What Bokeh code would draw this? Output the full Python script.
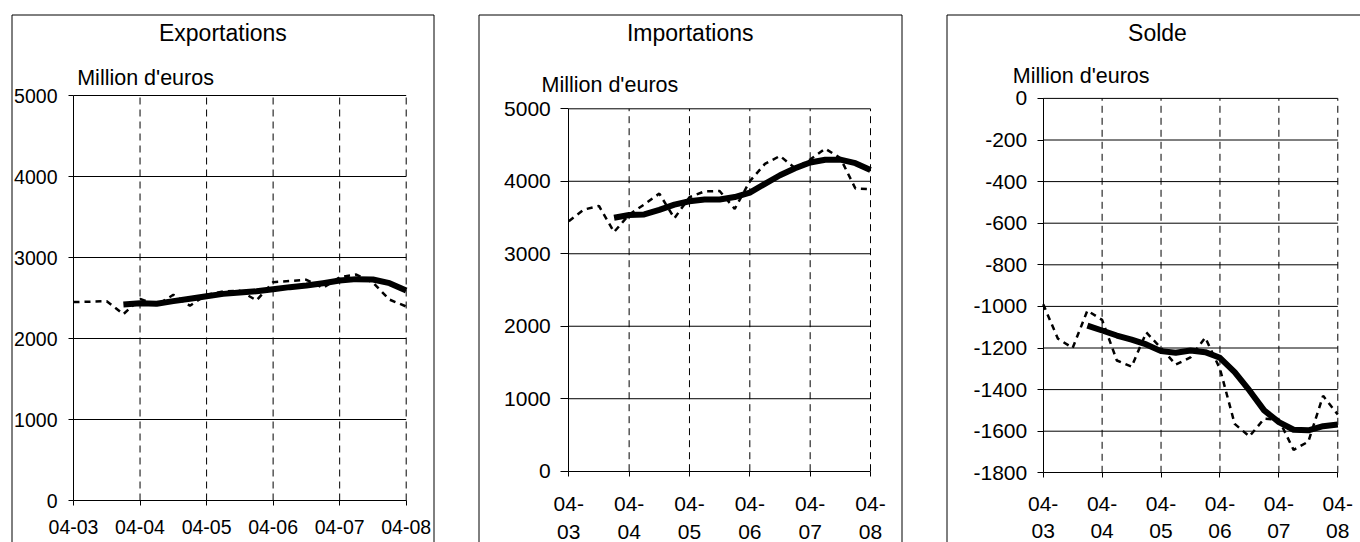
from bokeh.plotting import figure
from bokeh.models import Range1d, FixedTicker, Label, BoxAnnotation, LinearAxis
from bokeh.layouts import row
from bokeh.embed import file_html
from bokeh.resources import INLINE

# ---------------- data ----------------
quarters = [0, 1, 2, 3, 4, 5, 6, 7, 8, 9, 10, 11, 12, 13, 14, 15, 16, 17, 18, 19, 20]
trend_quarters = [3, 4, 5, 6, 7, 8, 9, 10, 11, 12, 13, 14, 15, 16, 17, 18, 19, 20]
x_tick_pos = [0, 4, 8, 12, 16, 20]
x_tick_labels = ["04-03", "04-04", "04-05", "04-06", "04-07", "04-08"]

exports_raw = [2450, 2455, 2460, 2300, 2490, 2410, 2540, 2405, 2540, 2580, 2590,
               2470, 2695, 2710, 2725, 2625, 2755, 2790, 2690, 2480, 2395]
exports_trend = [2420, 2436, 2428, 2461, 2490, 2522, 2551, 2568, 2584, 2609,
                 2634, 2654, 2683, 2716, 2733, 2728, 2683, 2593]

imports_raw = [3450, 3610, 3660, 3300, 3540, 3680, 3830, 3490, 3780, 3860, 3865,
               3620, 4000, 4240, 4350, 4180, 4300, 4450, 4320, 3900, 3890]
imports_trend = [3496, 3534, 3543, 3606, 3677, 3725, 3749, 3749, 3782, 3844,
                 3964, 4083, 4179, 4260, 4298, 4298, 4250, 4155]

balance_raw = [-990, -1155, -1200, -1020, -1065, -1260, -1290, -1125, -1200, -1280, -1245,
               -1150, -1300, -1565, -1625, -1540, -1545, -1690, -1650, -1430, -1520]
balance_trend = [-1092, -1116, -1140, -1160, -1183, -1215, -1223, -1212, -1220, -1247,
                 -1316, -1404, -1500, -1556, -1593, -1596, -1576, -1568]

exp_y_ticks = [0, 1000, 2000, 3000, 4000, 5000]
imp_y_ticks = [0, 1000, 2000, 3000, 4000, 5000]
bal_y_ticks = [-1800, -1600, -1400, -1200, -1000, -800, -600, -400, -200, 0]

titles = ["Exportations", "Importations", "Solde"]
unit_text = "Million d'euros"

FONT = "Liberation Sans"
PAGE_H = 542


def make_panel(cfg, raw, trend, y_ticks, title, x_labels):
    L, W = cfg["left"], cfg["w"]
    px0, px1 = cfg["xpx"]          # page px of first / last x tick
    py0, py1 = cfg["ypx"]          # page px of lowest / highest y tick
    xa, xb = x_tick_pos[0], x_tick_pos[-1]
    ya, yb = y_ticks[0], y_ticks[-1]
    kx = (xb - xa) / (px1 - px0)
    ky = (yb - ya) / (py0 - py1)

    def dx(px):
        return xa + (px - px0) * kx

    def dy(py):
        return ya + (py0 - py) * ky

    p = figure(width=W, height=PAGE_H, output_backend="svg", toolbar_location=None,
               x_range=Range1d(dx(L), dx(L + W)), y_range=Range1d(dy(PAGE_H), dy(0)),
               x_axis_location=None, y_axis_location=None,
               min_border=0)
    p.outline_line_color = None
    p.background_fill_color = "white"
    p.border_fill_color = "white"
    p.xgrid.visible = False
    p.ygrid.visible = False

    # grid lines, limited to the plotting area
    hy = [t for t in y_ticks if t != ya]
    p.segment(x0=[xa] * len(hy), y0=hy, x1=[xb] * len(hy), y1=hy,
              line_color="black", line_width=1)
    vx = [t for t in x_tick_pos if t != xa]
    p.segment(x0=vx, y0=[ya] * len(vx), x1=vx, y1=[yb] * len(vx),
              line_color="black", line_width=1, line_dash="7 5")

    # axes
    xaxis = LinearAxis(ticker=FixedTicker(ticks=x_tick_pos), fixed_location=ya,
                       bounds=(xa, xb))
    xaxis.major_label_overrides = {t: l for t, l in zip(x_tick_pos, x_labels)}
    yaxis = LinearAxis(ticker=FixedTicker(ticks=y_ticks), fixed_location=xa,
                       bounds=(ya, yb))
    yaxis.major_label_overrides = {t: str(t) for t in y_ticks}
    for ax in (xaxis, yaxis):
        ax.axis_line_color = "black"
        ax.major_tick_line_color = "black"
        ax.minor_tick_line_color = None
        ax.major_tick_in = 0
        ax.major_label_text_font = FONT
        ax.major_label_text_color = "black"
        ax.major_label_text_font_size = cfg["tfs"]
    yaxis.major_tick_out = cfg["ytick"]
    yaxis.major_label_standoff = cfg["ystand"]
    xaxis.major_tick_out = 5
    xaxis.major_label_standoff = cfg["xstand"]
    xaxis.major_label_text_line_height = cfg["lh"]
    p.add_layout(xaxis, "below")
    p.add_layout(yaxis, "left")

    # series
    p.line(quarters, raw, line_color="black", line_width=2.5, line_dash="6 5")
    p.line(trend_quarters, trend, line_color="black", line_width=6,
           line_cap="butt", line_join="round")

    # panel frame box
    bl, br = cfg["box"]
    p.add_layout(BoxAnnotation(left=dx(bl), right=dx(br), top=dy(14.5), bottom=dy(620),
                               fill_color=None, fill_alpha=0, line_color="black",
                               line_alpha=1.0, line_width=1))

    # title and unit (y given as the visual centre of the text)
    tcx, tcy = cfg["title_pos"]
    p.add_layout(Label(x=dx(tcx), y=dy(tcy), text=title, text_align="center",
                       text_baseline="middle", text_font=FONT,
                       text_font_size="23px", text_color="black"))
    ulx, ucy = cfg["unit_pos"]
    p.add_layout(Label(x=dx(ulx), y=dy(ucy), text=unit_text, text_align="left",
                       text_baseline="middle", text_font=FONT,
                       text_font_size="21.5px", text_color="black"))
    return p


cfg1 = dict(left=0, w=456, xpx=(73, 405.7), ypx=(500, 95), ytick=5, ystand=11,
            tfs="19.5px", xstand=14, lh=1.0, box=(11.5, 433.5),
            title_pos=(222.4, 32.5), unit_pos=(76.7, 77.5))
cfg2 = dict(left=456, w=450, xpx=(568.3, 870), ypx=(470.7, 108.3), ytick=8, ystand=10,
            tfs="21px", xstand=16, lh=1.2, box=(478.5, 901.5),
            title_pos=(689.7, 32.5), unit_pos=(541, 84))
cfg3 = dict(left=906, w=454, xpx=(1042.7, 1337.3), ypx=(472.3, 97.9), ytick=6, ystand=10,
            tfs="21px", xstand=14, lh=1.2, box=(946.5, 1368.5),
            title_pos=(1157, 32.5), unit_pos=(1012.3, 75.5))

two_line_labels = [l.replace("-", "-\n") for l in x_tick_labels]

p1 = make_panel(cfg1, exports_raw, exports_trend, exp_y_ticks, titles[0], x_tick_labels)
p2 = make_panel(cfg2, imports_raw, imports_trend, imp_y_ticks, titles[1], two_line_labels)
p3 = make_panel(cfg3, balance_raw, balance_trend, bal_y_ticks, titles[2], two_line_labels)

layout = row(p1, p2, p3)
open("out.html", "w").write(file_html(layout, INLINE))
